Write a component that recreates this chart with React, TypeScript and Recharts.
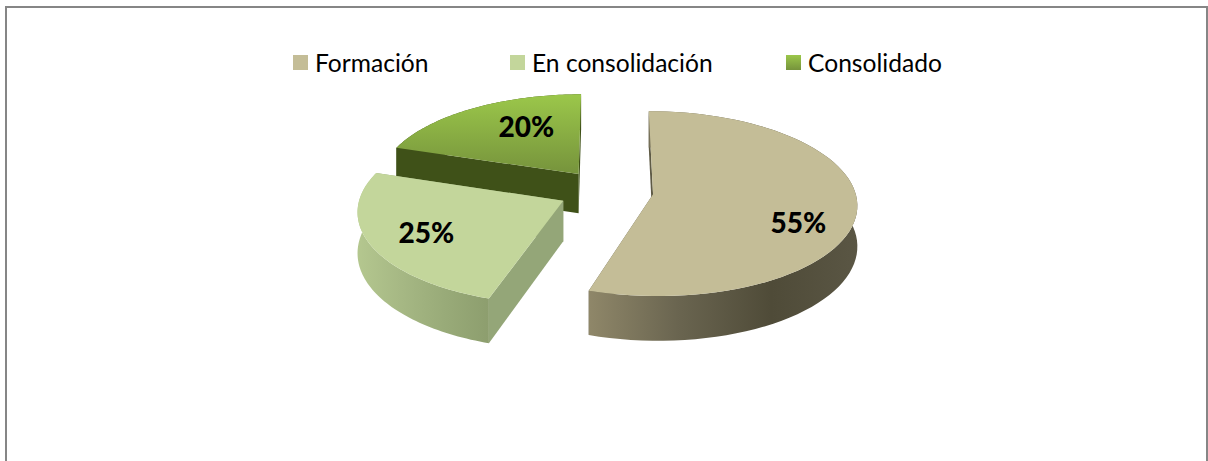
import React from "react";
import { PieChart, Pie, Legend } from "recharts";

const categories = ["Formación", "En consolidación", "Consolidado"];
const shares = [55, 25, 20];

const WIDTH = 1208;
const HEIGHT = 461;
const FONT = "Lato, Carlito, Calibri, sans-serif";
const EXPLODE = 0.235;
const TILT = 0.45;
const PERSPECTIVE = 0.1;
const DEPTH = 40;

const looks: Record<string, any> = {
  "Formación": {
    top: ["#C4BD97", "#C4BD97"], wall: ["#8F8769", "#6A6550", "#4F4B38", "#5A5644"],
    face: "#5E5A45", legend: "#C4BD97", labelDy: 17, reach: 0.715,
  },
  "En consolidación": {
    top: ["#C3D69B", "#C3D69B"], wall: ["#B4C78F", "#A6B884", "#98AA78", "#8D9E6E"],
    face: "#94A678", legend: "#C3D69B", labelDy: 0, reach: 0.72,
  },
  "Consolidado": {
    top: ["#9BC74A", "#76933C"], wall: ["#3F5118", "#3F5118", "#3F5118", "#3F5118"],
    face: "#3F5118", legend: "linear-gradient(#9BC74A,#76933C)", labelDy: -16, reach: 0.475,
  },
};

const rad = (d: number) => (d * Math.PI) / 180;

// plan position (unit radius, y toward the viewer) -> screen
function project(c: any, X: number, Y: number, h = 0) {
  const w = 1 - PERSPECTIVE * Y;
  return [
    c.cx + (c.outerRadius * X) / w,
    c.cy + (c.outerRadius * TILT * Y) / w + (h * DEPTH) / w,
  ];
}
const polar = (a: number, r = 1) => [r * Math.cos(rad(a)), -r * Math.sin(rad(a))];
const toPath = (pts: number[][]) =>
  "M" + pts.map((p) => `${p[0].toFixed(2)},${p[1].toFixed(2)}`).join("L") + "Z";

function Slice3D(props: any) {
  const { cx, cy, outerRadius, startAngle, endAngle, name } = props;
  const c = { cx, cy, outerRadius };
  const look = looks[name];
  const mid = (startAngle + endAngle) / 2;
  const [ox, oy] = polar(mid, EXPLODE);
  const arc: number[][] = [];
  const steps = 72;
  for (let i = 0; i <= steps; i++) {
    const [u, v] = polar(startAngle + ((endAngle - startAngle) * i) / steps);
    arc.push([ox + u, oy + v]);
  }
  const topArc = arc.map((p) => project(c, p[0], p[1]));
  const lowArc = arc.map((p) => project(c, p[0], p[1], 1));
  const apex = project(c, ox, oy);
  const apexLow = project(c, ox, oy, 1);
  const wall = toPath([...topArc, ...[...lowArc].reverse()]);
  const faceA = toPath([apex, topArc[0], lowArc[0], apexLow]);
  const faceB = toPath([apex, topArc[steps], lowArc[steps], apexLow]);
  const top = toPath([apex, ...topArc]);
  const id = name.replace(/[^a-z]/gi, "");
  const xs = lowArc.map((p) => p[0]);
  const ys = topArc.map((p) => p[1]);
  return (
    <g>
      <defs>
        <linearGradient id={`w${id}`} gradientUnits="userSpaceOnUse" x1={Math.min(...xs)} x2={Math.max(...xs)} y1="0" y2="0">
          <stop offset="0" stopColor={look.wall[0]} />
          <stop offset="0.33" stopColor={look.wall[1]} />
          <stop offset="0.68" stopColor={look.wall[2]} />
          <stop offset="1" stopColor={look.wall[3]} />
        </linearGradient>
        <linearGradient id={`t${id}`} gradientUnits="userSpaceOnUse" x1="0" x2="0" y1={Math.min(...ys)} y2={Math.max(...ys, apex[1])}>
          <stop offset="0" stopColor={look.top[0]} />
          <stop offset="1" stopColor={look.top[1]} />
        </linearGradient>
      </defs>
      <path d={faceA} fill={look.face} />
      <path d={faceB} fill={look.face} />
      <path d={wall} fill={`url(#w${id})`} />
      <path d={top} fill={`url(#t${id})`} />
    </g>
  );
}

function ShareLabel(props: any) {
  const { cx, cy, outerRadius, midAngle, percent, name } = props;
  const [ox, oy] = polar(midAngle, EXPLODE + looks[name].reach);
  const [x, y] = project({ cx, cy, outerRadius }, ox, oy);
  return (
    <text
      x={x}
      y={y + looks[name].labelDy}
      textAnchor="middle"
      dominantBaseline="central"
      fontFamily={FONT}
      fontWeight={900}
      fontSize={28}
      fill="#000"
    >
      {`${Math.round(percent * 100)}%`}
    </text>
  );
}

const legendLeft = [293, 510, 786];

function LegendRow() {
  return (
    <div style={{ position: "relative", width: WIDTH, height: 30, fontFamily: FONT, fontSize: 24.6, color: "#000" }}>
      {categories.map((name, i) => (
        <div key={name} style={{ position: "absolute", left: legendLeft[i], top: 0, display: "flex", alignItems: "center", height: 30, whiteSpace: "nowrap" }}>
          <span style={{ width: 15, height: 15, background: looks[name].legend, display: "inline-block", marginRight: 7 }} />
          <span>{name}</span>
        </div>
      ))}
    </div>
  );
}

// Painted back to front: the rear slice first, so the nearer one covers it.
const drawOrder = categories.map((name, i) => ({ name, value: shares[i] })).reverse();

export default function App() {
  return (
    <div style={{ position: "absolute", left: 0, top: 0, width: WIDTH, height: HEIGHT, overflow: "hidden", background: "#fff" }}>
      <div style={{ position: "absolute", left: 5, top: 6, right: 0, bottom: -10, borderLeft: "2px solid #868686", borderTop: "2px solid #868686", borderRight: "2px solid #868686", boxSizing: "border-box" }} />
      <div style={{ position: "absolute", left: 0, top: 0 }}>
        <PieChart width={WIDTH} height={HEIGHT} margin={{ top: 0, right: 0, bottom: 0, left: 0 }}>
          <Legend content={<LegendRow />} wrapperStyle={{ left: 0, top: 47, width: WIDTH }} />
          <Pie
            data={drawOrder}
            dataKey="value"
            nameKey="name"
            cx={606}
            cy={191}
            outerRadius={202}
            startAngle={90}
            endAngle={450}
            stroke="none"
            isAnimationActive={false}
            shape={Slice3D}
            label={ShareLabel}
            labelLine={false}
          />
        </PieChart>
      </div>
    </div>
  );
}
